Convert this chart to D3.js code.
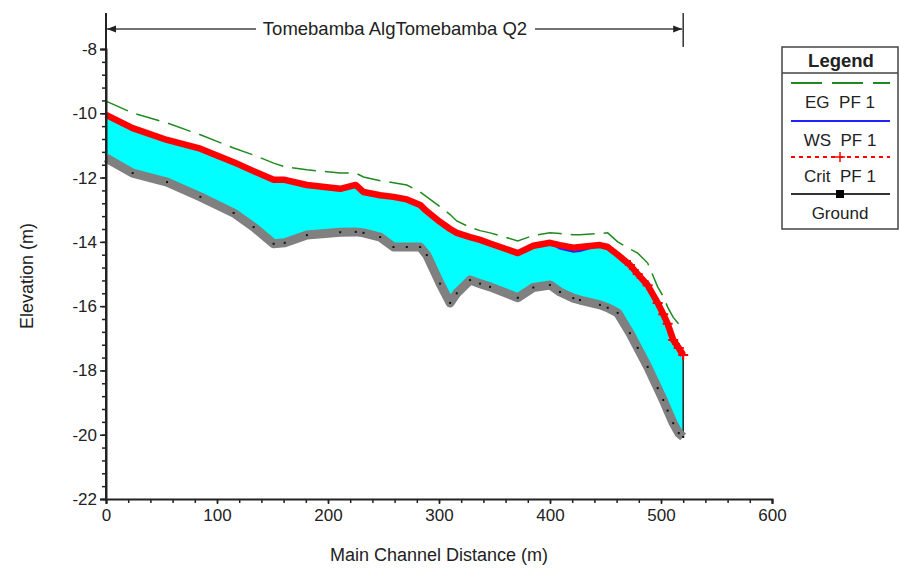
<!DOCTYPE html>
<html>
<head>
<meta charset="utf-8">
<script src="https://cdn.jsdelivr.net/npm/d3@7"></script>
<style>
  body { margin: 0; background: #fff; }
  text { font-family: "Liberation Sans", Arial, sans-serif; fill: #222; }
</style>
</head>
<body>
<svg width="900" height="572"></svg>
<script>
// stations along main channel (m)
const stations = [0, 24, 55, 85, 115, 133, 151, 161, 181, 211, 225, 232, 247, 259, 271, 283, 289, 301, 310, 316,
  328, 337, 346, 371, 385, 400, 409, 421, 427, 445, 452, 461, 472, 479, 488, 497, 502, 506, 511, 516, 520];

const ground = [-11.39, -11.86, -12.14, -12.60, -13.10, -13.54, -14.06, -14.03, -13.79, -13.70, -13.69, -13.72, -13.85,
  -14.16, -14.16, -14.16, -14.41, -15.30, -15.90, -15.60, -15.19, -15.30, -15.40, -15.74, -15.42, -15.34, -15.56,
  -15.75, -15.81, -15.96, -16.05, -16.21, -16.84, -17.30, -17.89, -18.55, -18.92, -19.25, -19.64, -19.95, -20.07];

const wsPF1 = [-10.05, -10.46, -10.83, -11.10, -11.52, -11.80, -12.07, -12.07, -12.23, -12.35, -12.23, -12.45, -12.55,
  -12.60, -12.68, -12.85, -13.05, -13.38, -13.60, -13.72, -13.85, -13.94, -14.05, -14.35, -14.12, -14.03, -14.20,
  -14.30, -14.28, -14.10, -14.16, -14.40, -14.72, -15.00, -15.35, -15.90, -16.25, -16.55, -17.05, -17.30, -17.52];

const critPF1 = [-10.05, -10.46, -10.83, -11.10, -11.52, -11.80, -12.07, -12.07, -12.23, -12.35, -12.23, -12.45, -12.55,
  -12.60, -12.68, -12.85, -13.05, -13.38, -13.60, -13.72, -13.85, -13.94, -14.05, -14.35, -14.12, -14.03, -14.10,
  -14.18, -14.16, -14.10, -14.16, -14.40, -14.72, -15.00, -15.35, -15.90, -16.25, -16.55, -17.05, -17.30, -17.52];

const egPF1 = [-9.62, -9.99, -10.30, -10.67, -11.08, -11.30, -11.55, -11.66, -11.76, -11.86, -11.86, -11.98, -12.10,
  -12.16, -12.23, -12.45, -12.60, -12.91, -13.15, -13.35, -13.55, -13.65, -13.72, -13.97, -13.80, -13.72, -13.74,
  -13.78, -13.78, -13.74, -13.72, -14.00, -14.22, -14.35, -14.66, -15.40, -15.70, -16.03, -16.35, -16.55, -16.72];

const xTicks = [0, 100, 200, 300, 400, 500, 600];
const yTicks = [-8, -10, -12, -14, -16, -18, -20, -22];
const title = "Tomebamba AlgTomebamba Q2";
const legendItems = ["EG  PF 1", "WS  PF 1", "Crit  PF 1", "Ground"];

const svg = d3.select("svg");

const x = d3.scaleLinear().domain([0, 600]).range([106, 772]);
const y = d3.scaleLinear().domain([-22, -8]).range([499, 49]);

const rows = stations.map((s, i) => ({ s, g: ground[i], ws: wsPF1[i], crit: critPF1[i], eg: egPF1[i] }));

// water fill
svg.append("path")
  .datum(rows)
  .attr("fill", "#00ffff")
  .attr("d", d3.area().x(d => x(d.s)).y0(d => y(d.g)).y1(d => y(d.ws)));

// end of reach
const last = rows[rows.length - 1];
svg.append("line")
  .attr("x1", x(last.s)).attr("x2", x(last.s))
  .attr("y1", y(last.ws)).attr("y2", y(last.g))
  .attr("stroke", "#222").attr("stroke-width", 1.5);

const line = key => d3.line().x(d => x(d.s)).y(d => y(d[key]));

// ground
svg.append("path").datum(rows)
  .attr("fill", "none").attr("stroke", "#808080").attr("stroke-width", 9)
  .attr("stroke-linejoin", "round")
  .attr("d", line("g"));

svg.append("g").selectAll("rect")
  .data(rows)
  .enter()
  .append("rect")
  .attr("x", d => x(d.s) - 1)
  .attr("y", d => y(d.g) - 1)
  .attr("width", 2).attr("height", 2)
  .attr("fill", "#111");

// WS
svg.append("path").datum(rows)
  .attr("fill", "none").attr("stroke", "#2222ff").attr("stroke-width", 2.5)
  .attr("d", line("ws"));

// Crit
svg.append("path").datum(rows)
  .attr("fill", "none").attr("stroke", "#ff0000").attr("stroke-width", 6.5)
  .attr("stroke-linejoin", "round")
  .attr("d", line("crit"));

// crit markers on the steep reach
svg.append("g").selectAll("path")
  .data(rows.filter(d => d.s >= 472))
  .enter()
  .append("path")
  .attr("d", d => `M${x(d.s) - 5},${y(d.crit)}h10M${x(d.s)},${y(d.crit) - 5}v10`)
  .attr("stroke", "#ff0000").attr("stroke-width", 2);

// EG
svg.append("path").datum(rows)
  .attr("fill", "none").attr("stroke", "#1f8a1f").attr("stroke-width", 1.5)
  .attr("stroke-dasharray", "24,9")
  .attr("d", line("eg"));

// axes
const yMinor = d3.range(0, 36).map(i => -22 + i * 0.4).filter(v => v <= -7.99);
const xMinor = d3.range(0, 31).map(i => i * 20);

svg.append("g").attr("transform", "translate(106,0)")
  .call(d3.axisLeft(y).tickValues(yTicks).tickSize(6).tickPadding(3).tickFormat(d => String(d)));
svg.append("g").attr("transform", "translate(106,0)")
  .call(d3.axisLeft(y).tickValues(yMinor).tickSize(4).tickFormat(""))
  .call(g => g.select(".domain").remove());

svg.append("g").attr("transform", "translate(0,499)")
  .call(d3.axisBottom(x).tickValues(xTicks).tickSize(5).tickPadding(5));
svg.append("g").attr("transform", "translate(0,499)")
  .call(d3.axisBottom(x).tickValues(xMinor).tickSize(4).tickFormat(""))
  .call(g => g.select(".domain").remove());

svg.selectAll(".tick line").attr("stroke", "#222").attr("stroke-width", 1.5);
svg.selectAll(".tick text").style("font-size", "17px").style("fill", "#222")
  .style("font-family", "'Liberation Sans', Arial, sans-serif");
svg.selectAll(".domain").attr("stroke", "#222").attr("stroke-width", 2);

// y axis runs up to the top
svg.append("line").attr("x1", 106).attr("x2", 106).attr("y1", 13).attr("y2", 499)
  .attr("stroke", "#222").attr("stroke-width", 2);

svg.append("text")
  .attr("x", 439).attr("y", 561)
  .attr("text-anchor", "middle").style("font-size", "18px")
  .text("Main Channel Distance (m)");

svg.append("text")
  .attr("transform", "translate(33,276) rotate(-90)")
  .attr("text-anchor", "middle").style("font-size", "18px")
  .text("Elevation (m)");

// reach title arrow
const defs = svg.append("defs");
defs.append("marker").attr("id", "arr").attr("viewBox", "0 0 10 10")
  .attr("refX", 10).attr("refY", 5).attr("markerWidth", 9).attr("markerHeight", 9)
  .attr("markerUnits", "userSpaceOnUse").attr("orient", "auto")
  .append("path").attr("d", "M0,1L10,5L0,9Z").attr("fill", "#222");

const xEnd = x(last.s);
svg.append("line").attr("x1", 256).attr("x2", 107).attr("y1", 29).attr("y2", 29)
  .attr("stroke", "#444").attr("stroke-width", 1.5).attr("marker-end", "url(#arr)");
svg.append("line").attr("x1", 535).attr("x2", xEnd - 1).attr("y1", 29).attr("y2", 29)
  .attr("stroke", "#444").attr("stroke-width", 1.5).attr("marker-end", "url(#arr)");
svg.append("line").attr("x1", xEnd).attr("x2", xEnd).attr("y1", 13).attr("y2", 47)
  .attr("stroke", "#333").attr("stroke-width", 1.5);
svg.append("text").attr("x", 395).attr("y", 35)
  .attr("text-anchor", "middle").style("font-size", "18.5px")
  .text(title);

// legend
const lg = svg.append("g");
lg.append("rect").attr("x", 782).attr("y", 47).attr("width", 116).attr("height", 182)
  .attr("fill", "#fff").attr("stroke", "#444").attr("stroke-width", 1.5);
lg.append("line").attr("x1", 782).attr("x2", 898).attr("y1", 73).attr("y2", 73)
  .attr("stroke", "#444").attr("stroke-width", 1.5);
lg.append("text").attr("x", 841).attr("y", 67).attr("text-anchor", "middle")
  .style("font-size", "18.5px").style("font-weight", "bold").text("Legend");

const lineY = [83, 121, 157, 194];
lg.selectAll(".lt").data(legendItems).enter().append("text")
  .attr("x", 840).attr("y", (d, i) => lineY[i] + 25)
  .attr("text-anchor", "middle").style("font-size", "17px")
  .style("white-space", "pre").attr("xml:space", "preserve")
  .text(d => d);

lg.append("line").attr("x1", 791).attr("x2", 890).attr("y1", lineY[0]).attr("y2", lineY[0])
  .attr("stroke", "#1f8a1f").attr("stroke-width", 1.8).attr("stroke-dasharray", "31,10");
lg.append("line").attr("x1", 791).attr("x2", 890).attr("y1", lineY[1]).attr("y2", lineY[1])
  .attr("stroke", "#2222ff").attr("stroke-width", 1.8);
lg.append("line").attr("x1", 791).attr("x2", 890).attr("y1", lineY[2]).attr("y2", lineY[2])
  .attr("stroke", "#ff0000").attr("stroke-width", 1.8).attr("stroke-dasharray", "4,4");
lg.append("path").attr("d", `M835,${lineY[2]}h10M840,${lineY[2] - 5}v10`)
  .attr("stroke", "#ff0000").attr("stroke-width", 1.5);
lg.append("line").attr("x1", 791).attr("x2", 890).attr("y1", lineY[3]).attr("y2", lineY[3])
  .attr("stroke", "#333").attr("stroke-width", 1.8);
lg.append("rect").attr("x", 836).attr("y", lineY[3] - 4).attr("width", 8).attr("height", 8)
  .attr("fill", "#000");
</script>
</body>
</html>
